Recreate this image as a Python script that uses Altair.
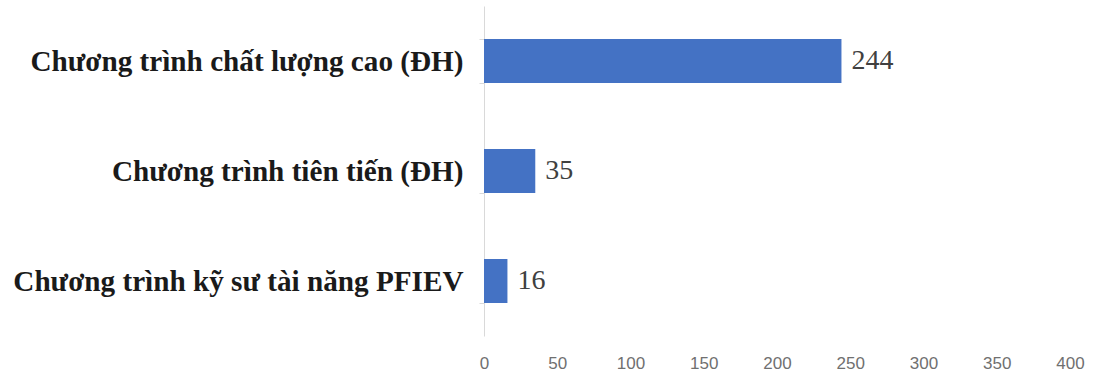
import altair as alt
import pandas as pd

categories = ["Chương trình chất lượng cao (ĐH)", "Chương trình tiên tiến (ĐH)", "Chương trình kỹ sư tài năng PFIEV"]
values = [244, 35, 16]
x_ticks = [0, 50, 100, 150, 200, 250, 300, 350, 400]

df = pd.DataFrame({"cat": categories, "val": values})

y = alt.Y("cat:N", sort=categories, title=None,
          scale=alt.Scale(paddingInner=0.6, paddingOuter=0.3),
          axis=alt.Axis(domainColor="#d9d9d9", tickColor="#d9d9d9", tickBand="extent",
                        tickSize=5, labelPadding=16, labelFont="Liberation Serif",
                        labelFontWeight="bold", labelFontSize=29.2, labelColor="#1a1a1a",
                        labelLimit=600))
x = alt.X("val:Q", title=None, scale=alt.Scale(domain=[0, 400], nice=False),
          axis=alt.Axis(values=x_ticks, domain=False, ticks=False, grid=False,
                        labelFlush=False,
                        labelFont="Liberation Sans", labelFontSize=17, labelColor="#707070",
                        labelPadding=19))

bars = alt.Chart(df).mark_bar(color="#4472C4").encode(x=x, y=y)
text = alt.Chart(df).mark_text(align="left", dx=10, font="Liberation Serif", fontSize=28,
                               color="#404040").encode(x="val:Q", y=alt.Y("cat:N", sort=categories), text="val:Q")

chart = (bars + text).properties(
    width=586, height=330,
    autosize=alt.AutoSizeParams(type="none"),
    padding={"left": 484, "top": 6, "right": 28, "bottom": 36},
).configure(background="white").configure_view(stroke="transparent", strokeWidth=0)

chart.save("out.html", embed_options={"renderer": "svg", "actions": False})
